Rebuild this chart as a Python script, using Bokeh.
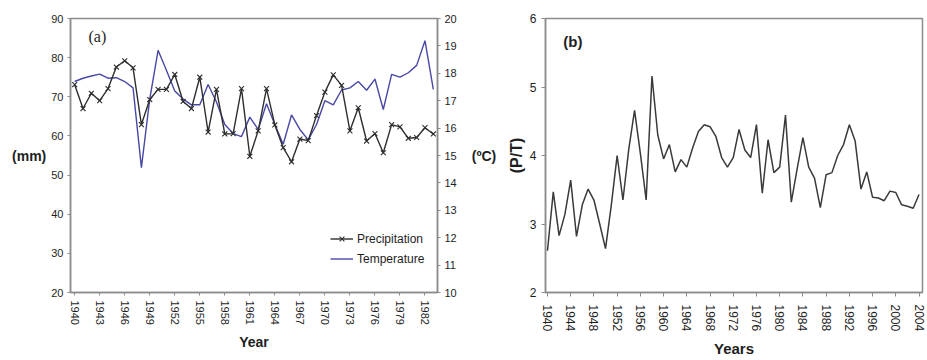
from bokeh.plotting import figure
from bokeh.models import Range1d, LinearAxis, FixedTicker, Legend, LegendItem, Label
from bokeh.layouts import row
from bokeh.embed import file_html
from bokeh.resources import INLINE

# ---------------- data ----------------
years_a = list(range(1940, 1984))
precipitation = [73.1, 67.0, 70.9, 69.0, 72.1, 77.6, 79.2, 77.4, 62.9, 69.3,
                 71.9, 71.9, 75.7, 68.8, 67.0, 75.0, 61.0, 71.9, 60.5, 60.6,
                 72.1, 54.8, 61.3, 72.1, 62.8, 57.0, 53.4, 59.2, 58.8, 65.2,
                 71.2, 75.6, 72.9, 61.3, 67.2, 58.7, 60.6, 55.7, 62.9, 62.3,
                 59.4, 59.6, 62.1, 60.5]
temperature = [17.70, 17.82, 17.90, 17.97, 17.82, 17.84, 17.70, 17.47, 14.56, 17.06,
               18.84, 18.11, 17.35, 17.06, 16.85, 16.85, 17.59, 16.95, 16.13, 15.80,
               15.69, 16.40, 15.95, 16.89, 16.13, 15.41, 16.48, 15.95, 15.57, 16.13,
               17.00, 16.85, 17.39, 17.47, 17.70, 17.38, 17.79, 16.68, 17.96, 17.86,
               18.02, 18.29, 19.19, 17.41]
years_b = list(range(1940, 2005))
pt_ratio = [2.61, 3.47, 2.83, 3.14, 3.64, 2.82, 3.28, 3.51, 3.35, 3.00,
            2.64, 3.28, 4.00, 3.35, 4.09, 4.66, 4.03, 3.35, 5.16, 4.30,
            3.95, 4.16, 3.76, 3.94, 3.83, 4.11, 4.35, 4.45, 4.42, 4.28,
            3.97, 3.83, 3.97, 4.38, 4.08, 3.97, 4.45, 3.45, 4.23, 3.75,
            3.83, 4.59, 3.32, 3.80, 4.26, 3.83, 3.67, 3.24, 3.72, 3.75,
            4.00, 4.16, 4.45, 4.21, 3.51, 3.76, 3.39, 3.38, 3.34, 3.48,
            3.46, 3.28, 3.26, 3.23, 3.43]
xticks_a = list(range(1940, 1983, 3))
yticks_mm = [20, 30, 40, 50, 60, 70, 80, 90]
yticks_c = list(range(10, 21))
xticks_b = list(range(1940, 2005, 4))
yticks_b = [2, 3, 4, 5, 6]

FONT = "Liberation Sans"
AXIS_COL = "#8c8c8c"
TXT = "#1e1e1e"


def style_axis(ax, size="11px"):
    ax.axis_line_color = AXIS_COL
    ax.axis_line_width = 1.5
    ax.major_tick_line_color = AXIS_COL
    ax.major_tick_out = 3
    ax.major_tick_in = 0
    ax.minor_tick_line_color = None
    ax.major_label_text_font = FONT
    ax.major_label_text_font_size = size
    ax.major_label_text_color = TXT
    ax.axis_label_text_font = FONT
    ax.axis_label_text_font_style = "bold"
    ax.axis_label_text_color = TXT


# ---------------- panel (a) ----------------
pa = figure(width=500, height=360, x_range=Range1d(1939.5, 1983.5),
            y_range=Range1d(20, 90), output_backend="svg", toolbar_location=None,
            min_border_left=70, min_border_right=63, min_border_top=16,
            min_border_bottom=58)
pa.extra_y_ranges = {"temp": Range1d(10, 20)}
pa.add_layout(LinearAxis(y_range_name="temp"), "right")
pa.grid.visible = False
pa.outline_line_color = AXIS_COL
pa.outline_line_width = 1.5
pa.background_fill_color = "white"
pa.border_fill_color = "white"

for ax in pa.axis:
    style_axis(ax, "11px")
pa.xaxis.ticker = FixedTicker(ticks=xticks_a)
pa.xaxis.major_label_orientation = "vertical"
pa.xaxis.major_label_standoff = 5
pa.xaxis.axis_label = "Year"
pa.xaxis.axis_label_text_font_size = "14px"
pa.xaxis.axis_label_standoff = 6
pa.yaxis[0].ticker = FixedTicker(ticks=yticks_mm)
pa.yaxis[1].ticker = FixedTicker(ticks=yticks_c)
pa.yaxis.major_label_standoff = 4

horizontal_ok = True
try:
    pa.yaxis[0].axis_label_orientation = "horizontal"
    pa.yaxis[1].axis_label_orientation = "horizontal"
except Exception:
    horizontal_ok = False

if horizontal_ok:
    pa.yaxis[0].axis_label = "(mm)"
    pa.yaxis[0].axis_label_text_font_size = "14px"
    pa.yaxis[0].axis_label_standoff = 2
    pa.yaxis[1].axis_label = "(ºC)"
    pa.yaxis[1].axis_label_text_font_size = "14px"
    pa.yaxis[1].axis_label_standoff = 12
else:
    pa.add_layout(Label(x=12, y=200, x_units="screen", y_units="screen",
                        text="(mm)", text_font=FONT, text_font_size="14px",
                        text_font_style="bold", text_color=TXT))
    pa.add_layout(Label(x=468, y=205, x_units="screen", y_units="screen",
                        text="(ºC)", text_font=FONT, text_font_size="14px",
                        text_font_style="bold", text_color=TXT))

tl = pa.line(years_a, temperature, y_range_name="temp", line_color="#4848a6",
             line_width=1.4)
pl = pa.line(years_a, precipitation, line_color="#2e2e2e", line_width=1.4)
ps = pa.scatter(years_a, precipitation, marker="x", size=7, line_color="#2e2e2e",
                line_width=1.1)

leg = Legend(items=[LegendItem(label="Precipitation", renderers=[pl, ps]),
                    LegendItem(label="Temperature", renderers=[tl])],
             location=(260, 25), orientation="vertical",
             background_fill_alpha=0, border_line_color=None,
             padding=0, margin=0, spacing=3, glyph_width=23, glyph_height=17,
             label_height=17, label_standoff=4,
             label_text_font=FONT, label_text_font_size="12px",
             label_text_color=TXT)
pa.add_layout(leg)

pa.add_layout(Label(x=1941.66, y=85.35, text="(a)", text_font="Liberation Serif",
                    text_font_size="16px", text_align="left",
                    text_baseline="middle", text_color=TXT))

# ---------------- panel (b) ----------------
pb = figure(width=427, height=360, x_range=Range1d(1939.66, 2004.6),
            y_range=Range1d(2, 6), output_backend="svg", toolbar_location=None,
            min_border_left=45, min_border_right=5, min_border_top=18,
            min_border_bottom=62)
pb.grid.visible = False
pb.outline_line_color = AXIS_COL
pb.outline_line_width = 1.5
pb.background_fill_color = "white"
pb.border_fill_color = "white"
for ax in pb.axis:
    style_axis(ax, "12px")
pb.xaxis.ticker = FixedTicker(ticks=xticks_b)
pb.xaxis.major_label_orientation = "vertical"
pb.xaxis.major_tick_out = 4
pb.xaxis.major_label_standoff = 8
pb.xaxis.axis_label = "Years"
pb.xaxis.axis_label_text_font_size = "15px"
pb.xaxis.axis_label_standoff = 6
pb.yaxis.ticker = FixedTicker(ticks=yticks_b)
pb.yaxis.major_tick_out = 4
pb.yaxis.major_label_standoff = 5
pb.yaxis.axis_label = "(P/T)"
pb.yaxis.axis_label_text_font_size = "16px"
pb.yaxis.axis_label_standoff = 2

pb.line(years_b, pt_ratio, line_color="#3a3a3a", line_width=1.5)
pb.add_layout(Label(x=1942.73, y=5.657, text="(b)", text_font=FONT,
                    text_font_size="15px", text_font_style="bold",
                    text_align="left", text_baseline="middle", text_color=TXT))

layout = row(pa, pb)
open("out.html", "w").write(file_html(layout, INLINE))
